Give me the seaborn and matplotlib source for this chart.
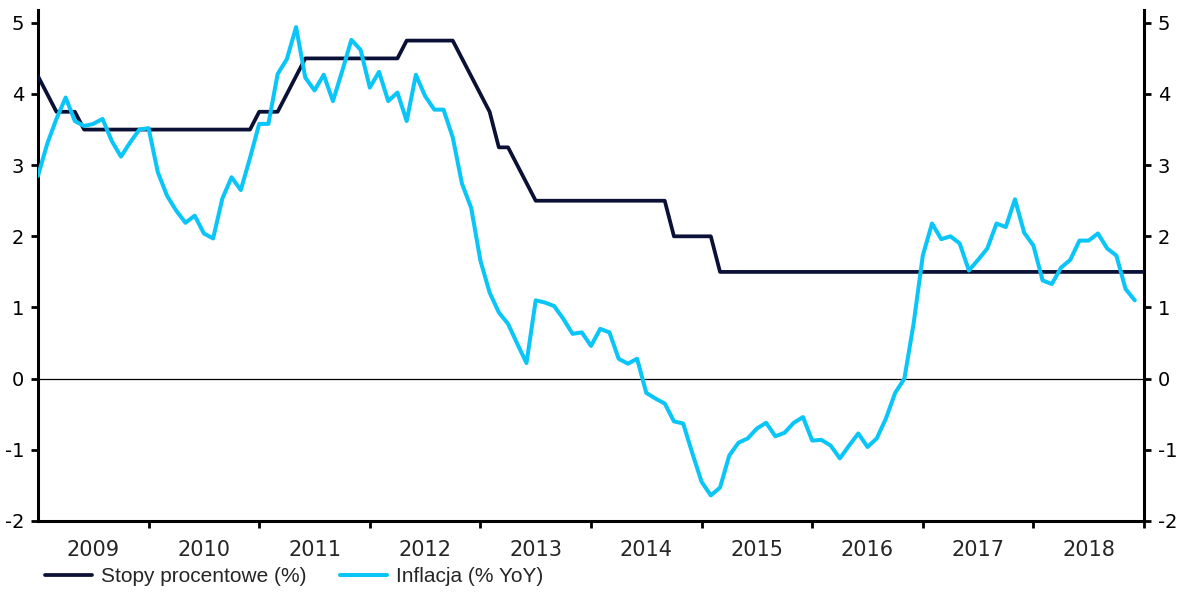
import matplotlib
matplotlib.use("Agg")
import pandas as pd
from matplotlib import pyplot as plt
import seaborn as sns

years = ["2009", "2010", "2011", "2012", "2013", "2014", "2015", "2016", "2017", "2018"]

# NBP reference rate (%), monthly, Jan 2009 .. Jan 2019
stopy_2009 = [4.25, 4.0, 3.75, 3.75, 3.75, 3.5, 3.5, 3.5, 3.5, 3.5, 3.5, 3.5]
stopy_2010 = [3.5, 3.5, 3.5, 3.5, 3.5, 3.5, 3.5, 3.5, 3.5, 3.5, 3.5, 3.5]
stopy_2011 = [3.75, 3.75, 3.75, 4.0, 4.25, 4.5, 4.5, 4.5, 4.5, 4.5, 4.5, 4.5]
stopy_2012 = [4.5, 4.5, 4.5, 4.5, 4.75, 4.75, 4.75, 4.75, 4.75, 4.75, 4.5, 4.25]
stopy_2013 = [4.0, 3.75, 3.25, 3.25, 3.0, 2.75, 2.5, 2.5, 2.5, 2.5, 2.5, 2.5]
stopy_2014 = [2.5, 2.5, 2.5, 2.5, 2.5, 2.5, 2.5, 2.5, 2.5, 2.0, 2.0, 2.0]
stopy_2015 = [2.0, 2.0, 1.5, 1.5, 1.5, 1.5, 1.5, 1.5, 1.5, 1.5, 1.5, 1.5]
stopy_2016 = [1.5, 1.5, 1.5, 1.5, 1.5, 1.5, 1.5, 1.5, 1.5, 1.5, 1.5, 1.5]
stopy_2017 = [1.5, 1.5, 1.5, 1.5, 1.5, 1.5, 1.5, 1.5, 1.5, 1.5, 1.5, 1.5]
stopy_2018 = [1.5, 1.5, 1.5, 1.5, 1.5, 1.5, 1.5, 1.5, 1.5, 1.5, 1.5, 1.5]
stopy_2019 = [1.5]

# CPI inflation (% YoY), monthly, Jan 2009 .. Dec 2018
infl_2009 = [2.85, 3.3, 3.65, 3.95, 3.62, 3.55, 3.58, 3.65, 3.34, 3.12, 3.32, 3.5]
infl_2010 = [3.52, 2.9, 2.57, 2.36, 2.19, 2.29, 2.04, 1.97, 2.53, 2.83, 2.65, 3.1]
infl_2011 = [3.58, 3.58, 4.28, 4.49, 4.94, 4.23, 4.05, 4.27, 3.9, 4.32, 4.76, 4.62]
infl_2012 = [4.09, 4.31, 3.9, 4.02, 3.62, 4.27, 3.97, 3.78, 3.78, 3.39, 2.74, 2.4]
infl_2013 = [1.66, 1.21, 0.93, 0.77, 0.49, 0.22, 1.1, 1.07, 1.02, 0.84, 0.63, 0.65]
infl_2014 = [0.46, 0.7, 0.65, 0.28, 0.21, 0.28, -0.2, -0.28, -0.35, -0.6, -0.63, -1.05]
infl_2015 = [-1.45, -1.64, -1.53, -1.08, -0.9, -0.84, -0.7, -0.62, -0.81, -0.76, -0.62, -0.54]
infl_2016 = [-0.87, -0.86, -0.94, -1.12, -0.94, -0.77, -0.96, -0.84, -0.56, -0.2, 0.0, 0.77]
infl_2017 = [1.73, 2.18, 1.96, 2.0, 1.9, 1.52, 1.67, 1.83, 2.18, 2.13, 2.52, 2.05]
infl_2018 = [1.87, 1.38, 1.33, 1.56, 1.67, 1.94, 1.94, 2.04, 1.83, 1.73, 1.26, 1.1]

stopy = (stopy_2009 + stopy_2010 + stopy_2011 + stopy_2012 + stopy_2013 + stopy_2014
         + stopy_2015 + stopy_2016 + stopy_2017 + stopy_2018 + stopy_2019)
infl = (infl_2009 + infl_2010 + infl_2011 + infl_2012 + infl_2013 + infl_2014
        + infl_2015 + infl_2016 + infl_2017 + infl_2018)

df_stopy = pd.DataFrame({"month": range(len(stopy)), "value": stopy})
df_infl = pd.DataFrame({"month": range(len(infl)), "value": infl})

NAVY = "#0b1036"
CYAN = "#0ac6f8"

sns.set_style("white")
plt.rcParams["font.family"] = ["DejaVu Sans"]

fig = plt.figure(figsize=(11.87, 5.95), dpi=100)
ax = fig.add_axes([38 / 1187, 1 - 521 / 595, (1144 - 38) / 1187, (521 - 10) / 595])

ax.axhline(0, color="black", lw=0.9, zorder=1)
sns.lineplot(data=df_stopy, x="month", y="value", color=NAVY, linewidth=2.7,
             label="Stopy procentowe (%)", ax=ax, zorder=3)
sns.lineplot(data=df_infl, x="month", y="value", color=CYAN, linewidth=2.9,
             label="Inflacja (% YoY)", ax=ax, zorder=4)

ax.set_xlim(0, 120)
ax.set_ylim(-2, 5.18)
ax.set_xlabel("")
ax.set_ylabel("")

ax.set_yticks(range(-2, 6))
ax.set_yticklabels([str(v) for v in range(-2, 6)])
ax.tick_params(axis="y", which="major", direction="out", length=5, width=2,
               left=True, right=True, labelleft=True, labelright=True,
               labelsize=14, pad=5, colors="black")

ax.set_xticks(range(12, 121, 12))
ax.set_xticklabels([])
ax.set_xticks([6 + 12 * k for k in range(len(years))], minor=True)
ax.set_xticklabels(years, minor=True)
ax.tick_params(axis="x", which="major", direction="out", length=5, width=2,
               bottom=True, colors="black")
ax.tick_params(axis="x", which="minor", length=0, pad=14, labelsize=15)

for side in ["left", "right", "bottom"]:
    ax.spines[side].set_visible(True)
    ax.spines[side].set_linewidth(2.2)
    ax.spines[side].set_color("black")
ax.spines["top"].set_visible(False)

handles, labels = ax.get_legend_handles_labels()
ax.get_legend().remove()
fig.legend(handles, labels, loc="center left", bbox_to_anchor=(45 / 1187, 1 - 577 / 595),
           ncol=2, frameon=False, borderpad=0, borderaxespad=0, handlelength=2.25,
           handletextpad=0.45, columnspacing=1.6,
           prop={"family": "Liberation Sans", "size": 15})

fig.savefig("out.png", dpi=100)
